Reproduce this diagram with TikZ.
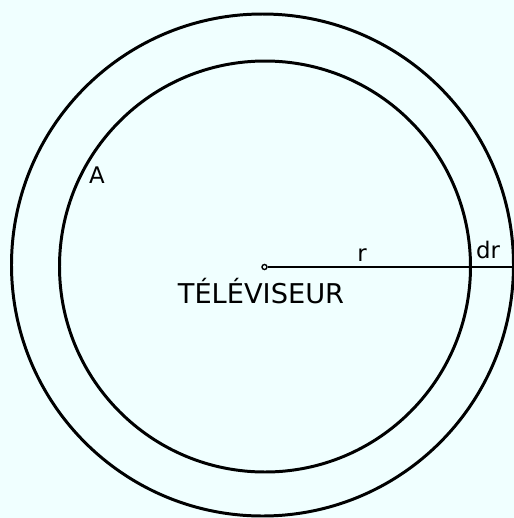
\documentclass[tikz,border=0pt]{standalone}
\usepackage{fontspec}
\setmainfont{DejaVu Sans}
\usetikzlibrary{positioning}
\definecolor{paper}{RGB}{240,255,255}

\begin{document}
\begin{tikzpicture}[
          x=0.02cm, y=-0.02cm,
          ring/.style={draw=black, line width=1.7pt},
          radius line/.style={draw=black, line width=0.8pt},
          lbl/.style={font=\fontsize{13}{15}\selectfont, inner sep=0pt},
          src/.style={circle, draw=black, line width=0.8pt, fill=paper,
                      inner sep=0pt, minimum size=0.1cm}
        ]
        \fill[paper] (0,0) rectangle (514,518);
        \useasboundingbox (0,0) rectangle (514,518);
        % annulus of width dr
        \draw[ring] (262.5,265) circle[radius=251];
        \draw[ring] (265,266.5) circle[radius=205.5];
        % source and radius
        \coordinate (rim) at (514,267);
        \node[src] (tv) at (264.5,267) {};
        \draw[radius line] (tv) -- (rim);
        \node[font=\fontsize{15.5}{18}\selectfont, inner sep=0pt, anchor=base]
              (tvname) at (261,303) {TÉLÉVISEUR};
        \node[lbl, anchor=base] (rlab) at (362,261) {r};
        \node[lbl, anchor=base] (drlab) at (488,258) {dr};
        \node[lbl, anchor=base] (alab) at (97,183) {A};
      \end{tikzpicture}
\end{document}
